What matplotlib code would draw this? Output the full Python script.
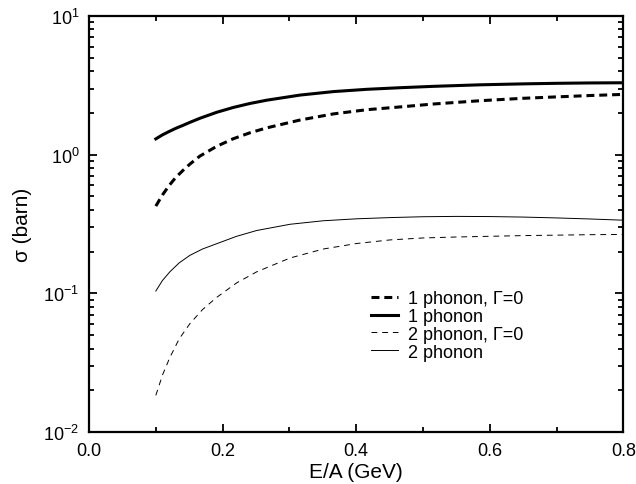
import numpy as np
import matplotlib
matplotlib.use("Agg")
import matplotlib.pyplot as plt
from matplotlib.ticker import LogLocator, MultipleLocator, NullFormatter

plt.rcParams["font.family"] = ["Liberation Sans", "DejaVu Sans"]
plt.rcParams["mathtext.fontset"] = "custom"
plt.rcParams["mathtext.rm"] = "Liberation Sans"
plt.rcParams["mathtext.it"] = "Liberation Sans:italic"

# values (E/A in GeV, sigma in barn)
e_one = [0.100, 0.110, 0.120, 0.130, 0.141, 0.151, 0.166, 0.191, 0.216, 0.241,
         0.266, 0.316, 0.366, 0.416, 0.466, 0.516, 0.586, 0.650, 0.700, 0.750,
         0.800]
one_phonon = [1.30, 1.39, 1.47, 1.55, 1.63, 1.71, 1.83, 2.02, 2.19, 2.34,
              2.47, 2.69, 2.85, 2.96, 3.04, 3.11, 3.19, 3.24, 3.27, 3.29, 3.30]
one_phonon_g0 = [0.426, 0.513, 0.600, 0.687, 0.773, 0.855, 0.977, 1.148,
                 1.303, 1.439, 1.560, 1.778, 1.968, 2.11, 2.21, 2.32, 2.45,
                 2.55, 2.61, 2.67, 2.72]

e_two = [0.100, 0.110, 0.121, 0.135, 0.151, 0.170, 0.191, 0.221, 0.251, 0.301,
         0.351, 0.401, 0.451, 0.500, 0.550, 0.600, 0.650, 0.700, 0.750, 0.800]
two_phonon = [0.104, 0.124, 0.143, 0.166, 0.188, 0.209, 0.228, 0.258, 0.284,
              0.315, 0.334, 0.345, 0.352, 0.357, 0.359, 0.358, 0.355, 0.350,
              0.344, 0.337]
two_phonon_g0 = [0.0184, 0.0258, 0.0345, 0.0470, 0.0605, 0.0765, 0.0935,
                 0.119, 0.143, 0.180, 0.209, 0.229, 0.243, 0.251, 0.255,
                 0.258, 0.261, 0.263, 0.265, 0.266]

fig = plt.figure(figsize=(6.36, 4.85), dpi=100)
ax = fig.add_axes([0.140, 0.107, 0.840, 0.858])

ax.plot(e_one, one_phonon_g0, color="black", lw=2.2, dashes=(2.6, 1.6),
        label="1 phonon, Γ=0")
ax.plot(e_one, one_phonon, color="black", lw=2.2, label="1 phonon")
ax.plot(e_two, two_phonon_g0, color="black", lw=0.7, dashes=(6, 5),
        label="2 phonon, Γ=0")
ax.plot(e_two, two_phonon, color="black", lw=0.7, label="2 phonon")

ax.set_yscale("log")
ax.set_xlim(0.0, 0.8)
ax.set_ylim(1e-2, 1e1)
ax.xaxis.set_major_locator(MultipleLocator(0.2))
ax.xaxis.set_minor_locator(MultipleLocator(0.1))
ax.xaxis.set_major_formatter(plt.FuncFormatter(lambda v, p: f"{v:.1f}"))
ax.yaxis.set_major_locator(LogLocator(base=10, numticks=10))
ax.yaxis.set_minor_locator(LogLocator(base=10, subs=np.arange(2, 10), numticks=20))
ax.yaxis.set_minor_formatter(NullFormatter())

ax.tick_params(which="both", direction="in", top=True, right=True, width=1.3,
               labelsize=13, pad=7)
ax.tick_params(which="major", length=6)
ax.tick_params(which="minor", length=3.5)
for sp in ax.spines.values():
    sp.set_linewidth(1.6)

ax.set_xlabel("E/A (GeV)", fontsize=15, labelpad=2)
ax.set_ylabel("σ (barn)", fontsize=15, labelpad=8)

ax.legend(loc="lower left", bbox_to_anchor=(0.51, 0.15), frameon=False,
          fontsize=13, handlelength=1.5, handletextpad=0.6, labelspacing=0.05,
          borderpad=0)

fig.savefig("out.png", dpi=100)
